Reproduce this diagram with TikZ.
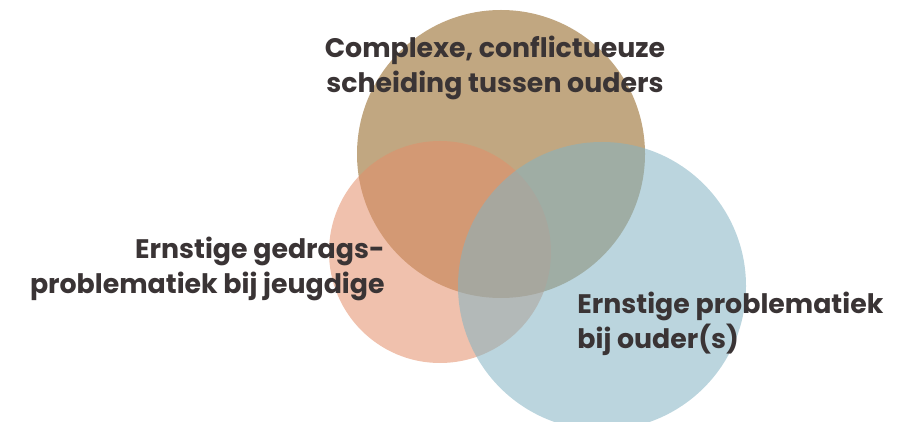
\documentclass[tikz,border=0pt]{standalone}
\usepackage{fontspec}
\setmainfont{Poppins}
\usepackage{xcolor}
\usetikzlibrary{positioning}
\definecolor{scheidingbrown}{RGB}{142,94,25}
\definecolor{jeugdsalmon}{RGB}{227,142,105}
\definecolor{ouderblue}{RGB}{131,179,194}
\definecolor{labelgray}{RGB}{58,52,53}

\begin{document}
\begin{tikzpicture}[x=0.5pt, y=-0.5pt,
    set/.style={circle, draw=none, fill opacity=0.55, inner sep=0pt},
    label/.style={text=labelgray, inner sep=0pt,
      font=\fontsize{13.4}{17.5}\selectfont\bfseries}
]
\useasboundingbox (0,0) rectangle (904,422);
\clip (0,0) rectangle (904,422);
% de drie cirkels
\node[set, fill=scheidingbrown, minimum size=144pt] (scheiding) at (501,154) {};
\node[set, fill=jeugdsalmon,    minimum size=111pt] (jeugd)     at (440,252) {};
\node[set, fill=ouderblue,      minimum size=144pt] (ouder)     at (602,286) {};
% teksten (base = basislijn van de laatste regel)
\node[label, anchor=base, align=center] (scheidingtxt) at (495,93)
  {Complexe, conflictueuze\\scheiding tussen ouders};
\node[label, anchor=base east, align=right] (jeugdtxt) at (385,293)
  {Ernstige gedrags-\\problematiek bij jeugdige};
\node[label, anchor=base west, align=left] (oudertxt) at (577,348)
  {Ernstige problematiek\\bij ouder(s)};
\end{tikzpicture}
\end{document}
